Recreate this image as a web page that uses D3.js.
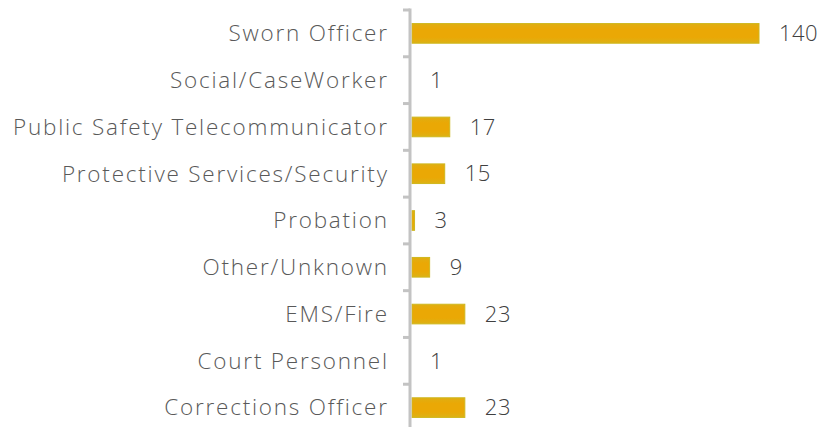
<!DOCTYPE html>
<head>
  <meta charset="utf-8">
  <script src="https://d3js.org/d3.v7.min.js"></script>
  <style>
body { margin:0; background:#fff; }
text { font-family: "Open Sans", sans-serif; font-weight: 300; }
.cat { fill: #595959; font-size: 22.5px; }
.val { fill: #404040; font-size: 22px; }
.bar { stroke: #cfb71e; stroke-width: 1; }
.axis-line { stroke: #c3c3c3; stroke-width: 3; }
.tick { stroke: #c3c3c3; stroke-width: 3; }
  </style>
</head>
<body>
  <script>
const categories = ['Sworn Officer', 'Social/CaseWorker', 'Public Safety Telecommunicator',
	'Protective Services/Security', 'Probation', 'Other/Unknown', 'EMS/Fire',
	'Court Personnel', 'Corrections Officer']
const counts = [140, 1, 17, 15, 3, 9, 23, 1, 23]

const fullWidth = 818
const fullHeight = 427

const svg = d3.select('body').append('svg')
	.attr('width', fullWidth)
	.attr('height', fullHeight)

// soft glow fill like the original
const grad = svg.append('defs').append('linearGradient')
	.attr('id', 'barfill').attr('x1', 0).attr('x2', 0).attr('y1', 0).attr('y2', 1)
grad.append('stop').attr('offset', '0%').attr('stop-color', '#e0ae12')
grad.append('stop').attr('offset', '30%').attr('stop-color', '#eaa805')
grad.append('stop').attr('offset', '70%').attr('stop-color', '#eaa805')
grad.append('stop').attr('offset', '100%').attr('stop-color', '#dcb215')

const x = d3.scaleLinear().domain([0, 140]).range([407, 759])
const y = d3.scaleBand().domain(categories).range([10, 431]).paddingInner(0.58).paddingOuter(0.29)
const axisX = 410

const rows = categories.map((c, i) => ({ name: c, value: counts[i] }))

svg.selectAll('.bar')
	.data(rows.filter(d => x(d.value) > axisX + 1.5))
	.enter().append('rect')
	.attr('class', 'bar')
	.attr('fill', 'url(#barfill)')
	.attr('x', axisX + 2)
	.attr('y', d => y(d.name))
	.attr('width', d => x(d.value) - axisX - 2)
	.attr('height', y.bandwidth())

// axis line and ticks at band edges
svg.append('line')
	.attr('class', 'axis-line')
	.attr('x1', axisX).attr('x2', axisX)
	.attr('y1', 8.5).attr('y2', fullHeight)

const step = y.step()
const edges = d3.range(categories.length + 1).map(i => 10 + i * step)
svg.selectAll('.tick')
	.data(edges)
	.enter().append('line')
	.attr('class', 'tick')
	.attr('x1', axisX - 7).attr('x2', axisX)
	.attr('y1', d => d).attr('y2', d => d)

const cats = svg.selectAll('.cat')
	.data(rows)
	.enter().append('text')
	.attr('class', 'cat')
	.attr('x', 387)
	.attr('y', d => y(d.name) + y.bandwidth() / 2)
	.attr('dy', '0.35em')
	.attr('text-anchor', 'end')
	.text(d => d.name)

// widen the spacing a little so the longest label spans like the original face
const longest = cats.filter(d => d.name === 'Public Safety Telecommunicator')
const w = longest.node().getComputedTextLength()
const spacing = Math.max(0, (374 - w) / (longest.datum().name.length - 1))
cats.style('letter-spacing', spacing + 'px')
	.attr('x', 387 + spacing)

svg.selectAll('.val')
	.data(rows)
	.enter().append('text')
	.attr('class', 'val')
	.attr('x', d => Math.max(x(d.value), axisX) + 20)
	.attr('y', d => y(d.name) + y.bandwidth() / 2)
	.attr('dy', '0.35em')
	.style('letter-spacing', '0.5px')
	.text(d => d.value)
  </script>
</body>
